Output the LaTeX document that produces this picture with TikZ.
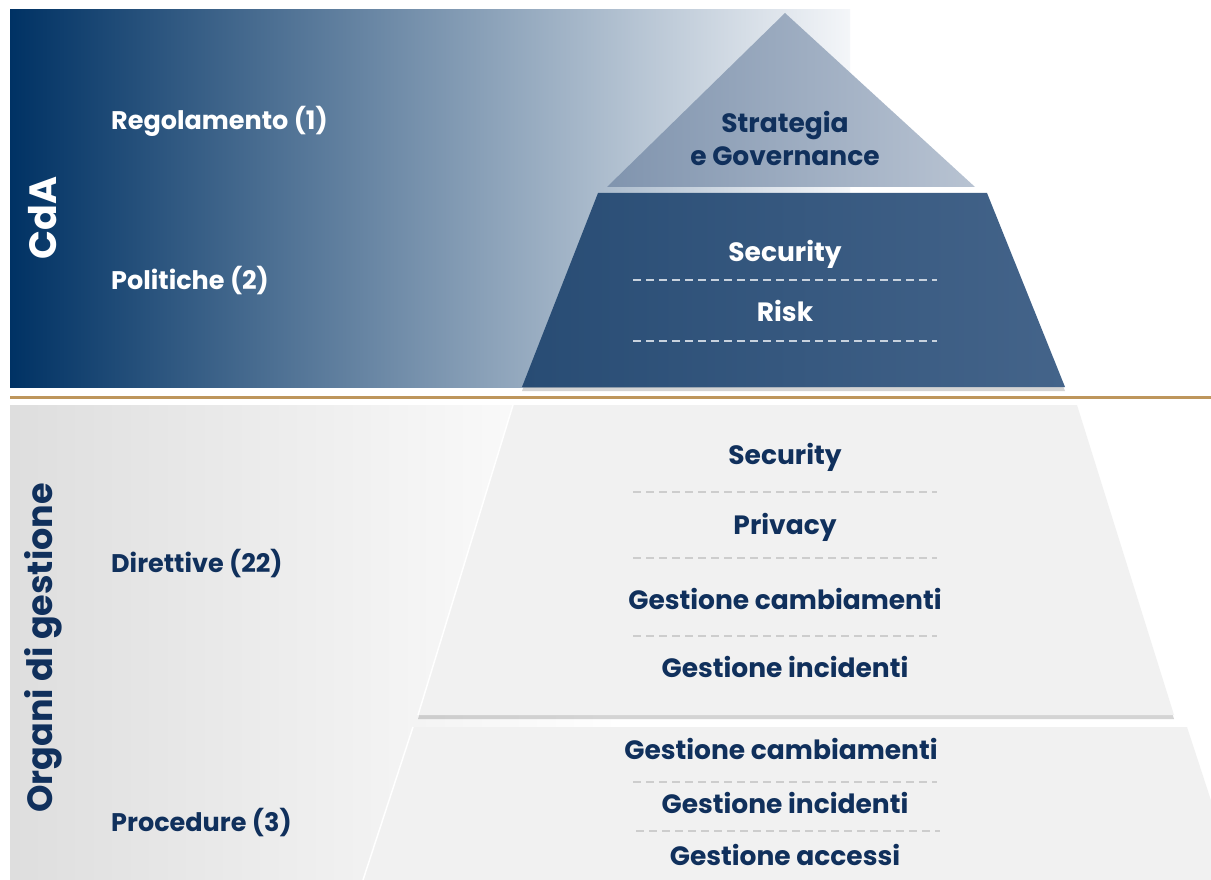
\documentclass[tikz,border=0pt]{standalone}
\usepackage{fontspec}
\setmainfont{Poppins}
\usetikzlibrary{shadows}
\definecolor{navy}{RGB}{16,48,92}
\definecolor{panelnavy}{RGB}{0,50,100}
\definecolor{panelend}{RGB}{244,246,249}
\definecolor{tanline}{RGB}{190,150,92}
\definecolor{trapL}{RGB}{40,76,116}
\definecolor{trapR}{RGB}{68,100,138}
\definecolor{triL}{RGB}{128,148,174}
\definecolor{triR}{RGB}{184,195,210}
\definecolor{lightfill}{RGB}{241,241,241}
\definecolor{panelgray}{RGB}{222,222,222}
\definecolor{darkdash}{RGB}{200,210,222}
\definecolor{lightdash}{RGB}{205,205,205}
\begin{document}
\begin{tikzpicture}[x=1pt,y=-1pt,
  lbl/.style={font=\fontsize{25.5}{30}\selectfont\bfseries, anchor=base west, inner sep=0},
  ptext/.style={font=\fontsize{26.5}{32}\selectfont\bfseries, anchor=base, inner sep=0},
  sidetitle/.style={font=\fontsize{38}{44}\selectfont\bfseries, rotate=90, inner sep=0},
  sepline/.style={dash pattern=on 8pt off 5pt, line width=1.2pt},
  shad/.style={drop shadow={shadow xshift=0pt, shadow yshift=-4pt, opacity=0.3, fill=black!55}}
]
\useasboundingbox (0,0) rectangle (1211,880);
\fill[white] (0,0) rectangle (1211,880);
\begin{scope}
\clip (0,0) rectangle (1211,880);
% panels
\shade[left color=panelnavy, right color=panelend] (10,10) rectangle (850,387);
\shade[left color=panelgray, right color=white] (10,405) rectangle (620,880);
\draw[tanline, line width=3pt] (10,397) -- (1211,397);
% top triangle
\shade[left color=triL, right color=triR] (607,187) -- (785,13) -- (975,187) -- cycle;
% dark trapezoid
\path[shad, left color=trapL, right color=trapR] (598,193) -- (987,193) -- (1065,387) -- (522,387) -- cycle;
% light trapezoids
\path[shad, fill=lightfill] (513,405) -- (1077,405) -- (1174,715) -- (418,715) -- cycle;
\path[fill=lightfill] (413,727) -- (1187,727) -- (1237,880) -- (363,880) -- cycle;
\draw[white, line width=1.5pt] (513,405) -- (418,715);
\draw[white, line width=1.5pt] (413,727) -- (363,880);
\end{scope}
% separators
\draw[sepline, darkdash] (633,280) -- (937,280);
\draw[sepline, darkdash] (633,341) -- (937,341);
\draw[sepline, lightdash] (633,492) -- (937,492);
\draw[sepline, lightdash] (633,558) -- (937,558);
\draw[sepline, lightdash] (633,636) -- (937,636);
\draw[sepline, lightdash] (633,782) -- (937,782);
\draw[sepline, lightdash] (636,831) -- (940,831);
% side titles
\node[sidetitle, white] (cda) at (43,218) {CdA};
\node[sidetitle, navy, font=\fontsize{35}{40}\selectfont\bfseries] (organi) at (43,648) {Organi di gestione};
% left labels
\node[lbl, white] (regol) at (111,130) {Regolamento (1)};
\node[lbl, white] (polit) at (111,289) {Politiche (2)};
\node[lbl, navy] (dirett) at (111,572) {Direttive (22)};
\node[lbl, navy] (proced) at (111,831) {Procedure (3)};
% pyramid texts
\node[ptext, navy] (strat1) at (785,133) {Strategia};
\node[ptext, navy] (strat2) at (785,166) {e Governance};
\node[ptext, white] (secA) at (785,261) {Security};
\node[ptext, white] (risk) at (785,321) {Risk};
\node[ptext, navy] (secB) at (785,464) {Security};
\node[ptext, navy] (priv) at (785,534) {Privacy};
\node[ptext, navy] (gcA) at (785,609) {Gestione cambiamenti};
\node[ptext, navy] (giA) at (785,677) {Gestione incidenti};
\node[ptext, navy] (gcB) at (781,759) {Gestione cambiamenti};
\node[ptext, navy] (giB) at (785,813) {Gestione incidenti};
\node[ptext, navy] (ga) at (785,865) {Gestione accessi};
\end{tikzpicture}
\end{document}
